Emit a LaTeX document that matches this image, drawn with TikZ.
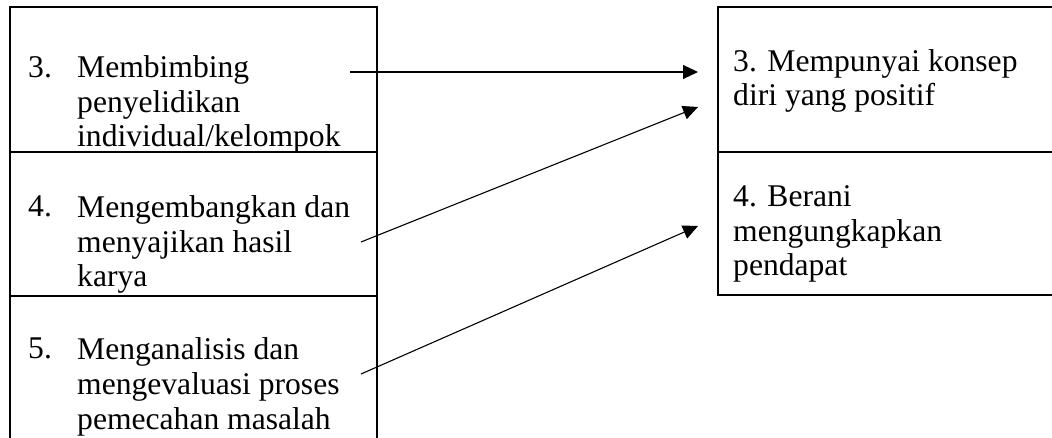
\documentclass[tikz,border=0pt]{standalone}
\usepackage{fontspec}
\setmainfont{Liberation Serif}
\usetikzlibrary{arrows.meta}
\begin{document}
\begin{tikzpicture}[x=1pt,y=-1pt,
  boxline/.style={line width=2pt},
  conn/.style={line width=1.1pt,-{Triangle[length=15pt,width=14pt]}},
  txt/.style={anchor=base west,inner sep=0pt,align=left,font=\fontsize{31.6}{34.6}\selectfont},
]
\useasboundingbox (0,0) rectangle (1052,438);
\clip (0,0) rectangle (1052,438);
% left column
\draw[boxline] (10,440) -- (10,7.5) -- (377,7.5) -- (377,440);
\draw[boxline] (10,152) -- (377,152);
\draw[boxline] (10,296) -- (377,296);
% right column
\draw[boxline] (1060,7.5) -- (718,7.5) -- (718,295) -- (1060,295);
\draw[boxline] (718,152) -- (1060,152);
% left texts (base anchor = baseline of last line)
\node[txt] (n3) at (28,78) {3.};
\node[txt] (t3) at (77,147) {Membimbing\\penyelidikan\\individual/kelompok};
\node[txt] (n4) at (28,217) {4.};
\node[txt] (t4) at (77,287) {Mengembangkan dan\\menyajikan hasil\\karya};
\node[txt] (n5) at (28,358) {5.};
\node[txt] (t5) at (77,429) {Menganalisis dan\\mengevaluasi proses\\pemecahan masalah};
% right texts
\node[txt] (r3) at (733,106) {3. Mempunyai konsep\\diri yang positif};
\node[txt] (r4) at (733,276) {4. Berani\\mengungkapkan\\pendapat};
% connector ends
\coordinate (s3) at (350,72);
\coordinate (e3) at (698,72);
\coordinate (s4) at (361,242);
\coordinate (e4) at (698,107);
\coordinate (s5) at (361,374);
\coordinate (e5) at (698,226);
\draw[conn] (s3) -- (e3);
\draw[conn] (s4) -- (e4);
\draw[conn] (s5) -- (e5);
\end{tikzpicture}
\end{document}
